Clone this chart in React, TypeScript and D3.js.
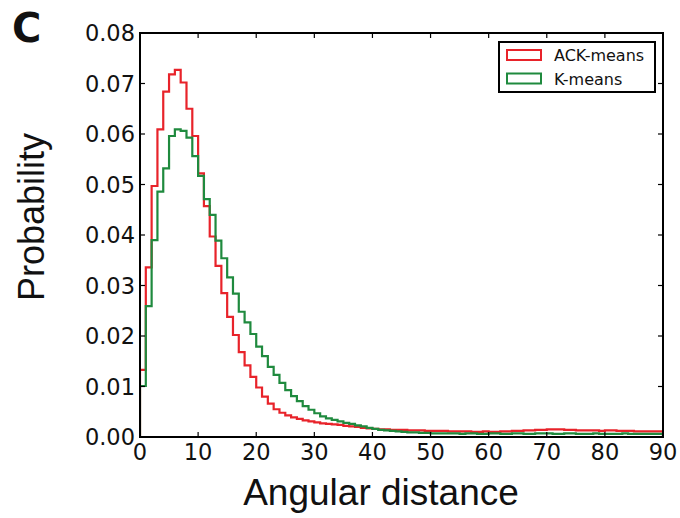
import * as d3 from 'd3';

const width = 680;
const height = 518;
const margin = { top: 33, right: 17, bottom: 81, left: 140 };
const red = "#e8232a";
const green = "#1f8a3e";

const xTicks = [0, 10, 20, 30, 40, 50, 60, 70, 80, 90];
const yTicks = [0, 0.01, 0.02, 0.03, 0.04, 0.05, 0.06, 0.07, 0.08];

// probability per 1-degree bin, 0..89
const ackMeans = [
    0.0133, 0.0336, 0.0497, 0.0609, 0.0684, 0.0718, 0.0727, 0.0702, 0.0650, 0.0596,
    0.0522, 0.0457, 0.0397, 0.0339, 0.0285, 0.0238, 0.0202, 0.0168, 0.0142, 0.0119,
    0.0098, 0.0080, 0.0066, 0.0055, 0.0048, 0.0043, 0.0039, 0.0036, 0.0033, 0.0031,
    0.0029, 0.0027, 0.0026, 0.0025, 0.0024, 0.0022, 0.0021, 0.0020, 0.0018, 0.0017,
    0.0016, 0.0015, 0.0015, 0.0014, 0.0014, 0.0014, 0.0013, 0.0013, 0.0013, 0.0012,
    0.0012, 0.0012, 0.0012, 0.0011, 0.0011, 0.0011, 0.0011, 0.0010, 0.0010, 0.0011,
    0.0010, 0.0010, 0.0011, 0.0011, 0.0012, 0.0012, 0.0013, 0.0013, 0.0014, 0.0014,
    0.0015, 0.0015, 0.0015, 0.0014, 0.0014, 0.0013, 0.0013, 0.0013, 0.0013, 0.0012,
    0.0013, 0.0013, 0.0012, 0.0012, 0.0012, 0.0011, 0.0011, 0.0011, 0.0011, 0.0011,
];
const kMeans = [
    0.0101, 0.0259, 0.0390, 0.0486, 0.0532, 0.0596, 0.0609, 0.0606, 0.0593, 0.0556,
    0.0517, 0.0471, 0.0440, 0.0389, 0.0354, 0.0316, 0.0284, 0.0248, 0.0227, 0.0204,
    0.0179, 0.0160, 0.0139, 0.0123, 0.0107, 0.0093, 0.0081, 0.0071, 0.0061, 0.0054,
    0.0047, 0.0041, 0.0037, 0.0034, 0.0031, 0.0028, 0.0026, 0.0023, 0.0021, 0.0018,
    0.0016, 0.0014, 0.0013, 0.0012, 0.0011, 0.0010, 0.0009, 0.0009, 0.0008, 0.0008,
    0.0007, 0.0007, 0.0007, 0.0007, 0.0007, 0.0006, 0.0007, 0.0007, 0.0006, 0.0006,
    0.0007, 0.0007, 0.0006, 0.0006, 0.0007, 0.0007, 0.0006, 0.0006, 0.0007, 0.0007,
    0.0007, 0.0006, 0.0006, 0.0007, 0.0007, 0.0006, 0.0006, 0.0006, 0.0007, 0.0006,
    0.0006, 0.0006, 0.0006, 0.0007, 0.0006, 0.0006, 0.0006, 0.0006, 0.0006, 0.0006,
];

const series = [
    { name: "ACK-means", values: ackMeans, color: red },
    { name: "K-means", values: kMeans, color: green },
];

const x = d3.scaleLinear().domain([0, 90]).range([margin.left, width - margin.right]);
const y = d3.scaleLinear().domain([0, 0.08]).range([height - margin.bottom, margin.top]);

const stepLine = d3.line<[number, number]>()
    .x(d => x(d[0]))
    .y(d => y(d[1]))
    .curve(d3.curveStepAfter);

function stepPath(values: number[]) {
    const pts: [number, number][] = [[0, 0]];
    values.forEach((v, i) => pts.push([i, v]));
    pts.push([values.length, values[values.length - 1]]);
    pts.push([values.length, 0]);
    return stepLine(pts) || '';
}

const tickFont = "'DejaVu Sans', sans-serif";
const labelFont = "'Liberation Sans', Arial, sans-serif";

export default function App() {
    const x0 = x(0), x1 = x(90), y0 = y(0), y1 = y(0.08);
    const tl = 5;

    return (
        <svg width={width} height={height} style={{ position: 'absolute', left: 0, top: 0, background: '#fff' }}>
            <defs>
                <clipPath id="plot">
                    <rect x={x0} y={y1} width={x1 - x0} height={y0 - y1} />
                </clipPath>
            </defs>

            <g clipPath="url(#plot)">
                {series.map(s => (
                    <path key={s.name} d={stepPath(s.values)} fill="none" stroke={s.color} strokeWidth={2.2} strokeLinejoin="miter" />
                ))}
            </g>

            {/* ticks on all four sides, pointing in */}
            {xTicks.map(t => (
                <g key={'x' + t}>
                    <line x1={x(t)} x2={x(t)} y1={y0} y2={y0 - tl} stroke="#000" strokeWidth={1.2} />
                    <line x1={x(t)} x2={x(t)} y1={y1} y2={y1 + tl} stroke="#000" strokeWidth={1.2} />
                    <text x={x(t)} y={y0 + 23} textAnchor="middle" fontFamily={tickFont} fontSize={22.5} fill="#111">{t}</text>
                </g>
            ))}
            {yTicks.map(t => (
                <g key={'y' + t}>
                    <line x1={x0} x2={x0 + tl} y1={y(t)} y2={y(t)} stroke="#000" strokeWidth={1.2} />
                    <line x1={x1} x2={x1 - tl} y1={y(t)} y2={y(t)} stroke="#000" strokeWidth={1.2} />
                    <text x={x0 - 5} y={y(t) + 8} textAnchor="end" fontFamily={tickFont} fontSize={22.5} fill="#111">{t.toFixed(2)}</text>
                </g>
            ))}

            <rect x={x0} y={y1} width={x1 - x0} height={y0 - y1} fill="none" stroke="#000" strokeWidth={2} />

            {/* legend */}
            <rect x={499} y={42} width={156} height={50} fill="#fff" stroke="#000" strokeWidth={2} />
            {series.map((s, i) => (
                <g key={'lg' + s.name} transform={`translate(0, ${i * 23.5})`}>
                    <rect x={507} y={50} width={34} height={10} fill="none" stroke={s.color} strokeWidth={2} />
                    <text x={554} y={61} fontFamily={tickFont} fontSize={16} fill="#111">{s.name}</text>
                </g>
            ))}

            <text x={381} y={505} textAnchor="middle" fontFamily={labelFont} fontSize={37} fill="#111">Angular distance</text>
            <text transform={`translate(44, 217) rotate(-90)`} textAnchor="middle" fontFamily={labelFont} fontSize={36} fill="#111">Probability</text>
            <text x={12} y={42} fontFamily={tickFont} fontWeight="bold" fontSize={40} fill="#111">C</text>
        </svg>
    );
}
